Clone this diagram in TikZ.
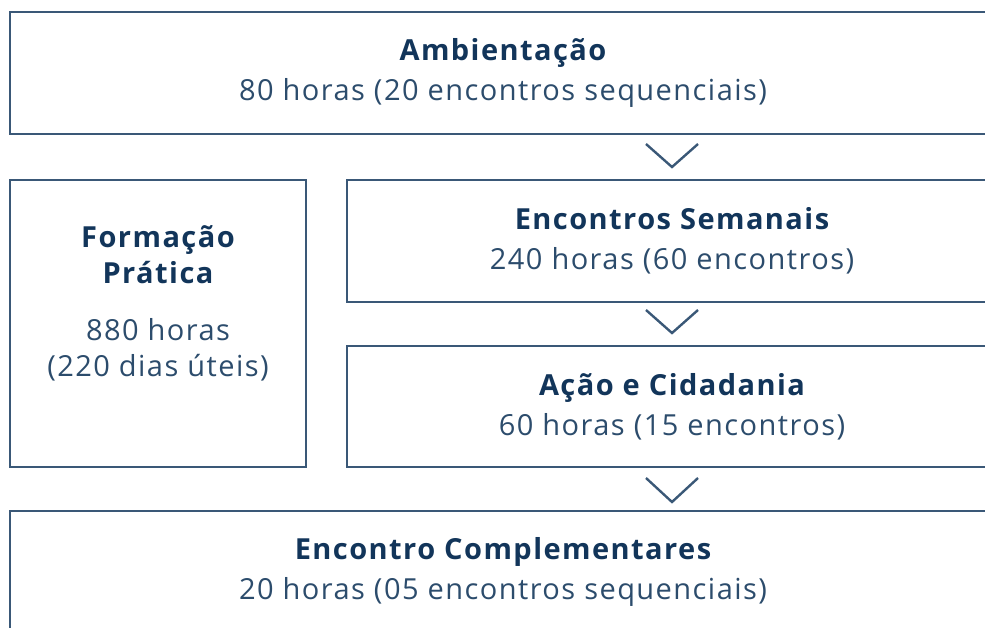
\documentclass[tikz,border=0pt]{standalone}
\usepackage{fontspec}
\setmainfont[LetterSpace=5]{Open Sans}
\usetikzlibrary{positioning, calc}
\usepackage{xcolor}
\definecolor{navyline}{HTML}{3A5877}
\definecolor{navytitle}{HTML}{12355A}
\definecolor{navytext}{HTML}{2C4C6C}
\newcommand{\titulo}[1]{{\bfseries\color{navytitle}#1}}

\begin{document}
\begin{tikzpicture}[x=1pt, y=-1pt,
    bloco/.style={draw=navyline, line width=2pt, minimum height=122pt,
      inner sep=0pt, align=center, text=navytext,
      font=\fontsize{29}{40}\selectfont},
    chevron/.style={draw=navyline, line width=2.4pt, line join=miter}]
  % area visivel
  \clip (0,0) rectangle (985,627);

  % caixas
  \node[bloco, minimum width=986pt] (amb) at (503,73)
    {\titulo{Ambientação}\\80 horas (20 encontros sequenciais)};
  \node[bloco, minimum width=296pt, minimum height=287pt] (form) at (158,323.5) {};
  \node[bloco, minimum width=650pt] (sem) at (672,241)
    {\titulo{Encontros Semanais}\\240 horas (60 encontros)};
  \node[bloco, minimum width=650pt, minimum height=121pt] (acao) at (672,406.5)
    {\titulo{Ação e Cidadania}\\60 horas (15 encontros)};
  \node[bloco, minimum width=986pt] (comp) at (503,572)
    {\titulo{Encontro Complementares}\\20 horas (05 encontros sequenciais)};

  % texto da caixa lateral
  \node[align=center, text=navytext, font=\fontsize{29}{36}\selectfont]
    (formtxt) at ([yshift=20pt]form.center)
    {\titulo{Formação}\\\titulo{Prática}\\[21pt]880 horas\\(220 dias úteis)};

  % setas
  \coordinate (g3) at (acao.south -| sem.north);
  \draw[chevron] ($(sem.north)+(-26,-35)$) -- ($(sem.north)+(0,-12)$) -- ($(sem.north)+(26,-35)$);
  \draw[chevron] ($(acao.north)+(-26,-35)$) -- ($(acao.north)+(0,-12)$) -- ($(acao.north)+(26,-35)$);
  \draw[chevron] ($(g3)+(-26,10)$) -- ($(g3)+(0,34)$) -- ($(g3)+(26,10)$);
\end{tikzpicture}
\end{document}
